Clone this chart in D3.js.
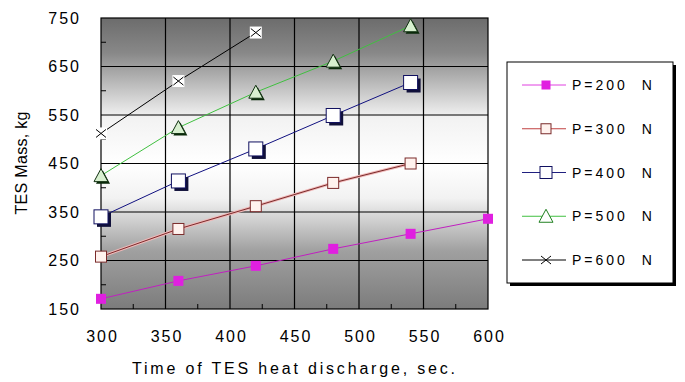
<!DOCTYPE html>
<html><head><meta charset="utf-8">
<script src="https://cdn.jsdelivr.net/npm/d3@7/dist/d3.min.js"></script>
<style>body{margin:0;background:#fff;} svg{display:block;font-family:"Liberation Sans",Arial,sans-serif;}</style>
</head><body>
<svg id="c" width="685" height="382"></svg>
<script>
const xTicks = [300, 350, 400, 450, 500, 550, 600];
const yTicks = [150, 250, 350, 450, 550, 650, 750];
const seriesNames = ["P=200  N", "P=300  N", "P=400  N", "P=500  N", "P=600  N"];
const xP200 = [300, 360, 420, 480, 540, 600];
const yP200 = [171, 208, 239, 274, 305, 336];
const xP300 = [300, 360, 420, 480, 540];
const yP300 = [258, 315, 362, 410, 450];
const xP400 = [300, 360, 420, 480, 540];
const yP400 = [340, 414, 480, 549, 617];
const xP500 = [300, 360, 420, 480, 540];
const yP500 = [425, 524, 597, 661, 734];
const xP600 = [300, 360, 420];
const yP600 = [512, 620, 720];

const svg = d3.select("#c");
const L = 101, R = 488, T = 18, B = 309;
const x = d3.scaleLinear().domain([300, 600]).range([L, R]);
const y = d3.scaleLinear().domain([150, 750]).range([B, T]);

const defs = svg.append("defs");
const g = defs.append("linearGradient").attr("id", "bg").attr("x1", 0).attr("y1", 0).attr("x2", 0).attr("y2", 1);
[[0, "#6c6c6c"], [0.12, "#888888"], [0.34, "#f2f2f2"], [0.5, "#ffffff"], [0.62, "#f2f2f2"], [0.8, "#a0a0a0"], [1, "#7c7c7c"]]
  .forEach(([o, c]) => g.append("stop").attr("offset", o).attr("stop-color", c));

svg.append("rect").attr("x", L).attr("y", T).attr("width", R - L).attr("height", B - T).attr("fill", "url(#bg)");

// grid
svg.append("g").selectAll("line").data(yTicks.slice(1, -1)).join("line")
  .attr("x1", L).attr("x2", R).attr("y1", d => y(d)).attr("y2", d => y(d))
  .attr("stroke", "#000").attr("stroke-width", 1.2);
svg.append("g").selectAll("line").data(xTicks.slice(1, -1)).join("line")
  .attr("y1", T).attr("y2", B).attr("x1", d => x(d)).attr("x2", d => x(d))
  .attr("stroke", "#000").attr("stroke-width", 1.2);
svg.append("rect").attr("x", L).attr("y", T).attr("width", R - L).attr("height", B - T)
  .attr("fill", "none").attr("stroke", "#000").attr("stroke-width", 1.2);

// axes
const yAxis = d3.axisLeft(y).tickValues(yTicks).tickSize(0).tickPadding(20).tickFormat(d3.format("d"));
const ya = svg.append("g").attr("transform", `translate(${L},0)`).call(yAxis);
ya.select(".domain").remove();
ya.selectAll("text").attr("font-size", 16).attr("letter-spacing", 2).attr("fill", "#000").attr("font-family", "Liberation Sans, Arial");
const xAxis = d3.axisBottom(x).tickValues(xTicks).tickSize(0).tickPadding(22).tickFormat(d3.format("d"));
const xa = svg.append("g").attr("transform", `translate(0,${B})`).call(xAxis);
xa.select(".domain").remove();
xa.selectAll("text").attr("font-size", 16).attr("letter-spacing", 2).attr("dx", 1).attr("fill", "#000").attr("font-family", "Liberation Sans, Arial");

// minor inward ticks
const minorX = d3.range(325, 600, 50);
const minorY = d3.range(200, 750, 100);
svg.append("g").selectAll("line").data(minorX).join("line")
  .attr("x1", d => x(d)).attr("x2", d => x(d)).attr("y1", B).attr("y2", B - 5).attr("stroke", "#000");
svg.append("g").selectAll("line").data(minorY).join("line")
  .attr("y1", d => y(d)).attr("y2", d => y(d)).attr("x1", L).attr("x2", L + 5).attr("stroke", "#000");

// titles
svg.append("text").attr("x", 132).attr("y", 374).attr("font-size", 16).attr("textLength", 323).attr("lengthAdjust", "spacing")
  .text("Time of TES heat discharge, sec.");
svg.append("text").attr("transform", "translate(27,163) rotate(-90)").attr("text-anchor", "middle")
  .attr("font-size", 16).attr("textLength", 103).attr("lengthAdjust", "spacing").text("TES Mass, kg");

const series = [
  { xs: xP200, ys: yP200, line: "#c020c0", halo: null, type: "fsq" },
  { xs: xP300, ys: yP300, line: "#7a2a2a", halo: "#f0b8b8", type: "sq300" },
  { xs: xP400, ys: yP400, line: "#101080", halo: null, type: "sq400" },
  { xs: xP500, ys: yP500, line: "#40c040", halo: null, type: "tri" },
  { xs: xP600, ys: yP600, line: "#000000", halo: null, type: "x" }
];

function marker(sel, type, legend) {
  if (type === "fsq") {
    const s = legend ? 9 : 10;
    sel.append("rect").attr("x", -s / 2).attr("y", -s / 2).attr("width", s).attr("height", s).attr("fill", "#e020e0");
  } else if (type === "sq300") {
    const s = legend ? 10 : 11;
    sel.append("rect").attr("x", -s / 2).attr("y", -s / 2).attr("width", s).attr("height", s)
      .attr("fill", "#fff2ee").attr("stroke", "#7a2a2a").attr("stroke-width", 1);
  } else if (type === "sq400") {
    const s = legend ? 12 : 14;
    if (!legend) sel.append("rect").attr("x", -s / 2 + 3).attr("y", -s / 2 + 3).attr("width", s).attr("height", s).attr("fill", "#10103a");
    sel.append("rect").attr("x", -s / 2).attr("y", -s / 2).attr("width", s).attr("height", s)
      .attr("fill", "#fff").attr("stroke", "#101060").attr("stroke-width", 1);
  } else if (type === "tri") {
    const p = "M0,-7L7,6L-7,6Z";
    if (!legend) sel.append("path").attr("d", p).attr("transform", "translate(2,2)").attr("fill", "#0a2a0a");
    sel.append("path").attr("d", p).attr("fill", legend ? "#fff" : "#d8f0d0").attr("stroke", legend ? "#208020" : "#103010").attr("stroke-width", 1);
  } else if (type === "x") {
    if (!legend) sel.append("rect").attr("x", -6).attr("y", -6).attr("width", 12).attr("height", 12).attr("fill", "#fff");
    sel.append("path").attr("d", "M-5,-4L5,4M-5,4L5,-4").attr("stroke", "#000").attr("stroke-width", 1).attr("fill", "none");
  }
}

const lineGen = d3.line().x(d => x(d[0])).y(d => y(d[1]));
series.forEach(s => {
  const pts = s.xs.map((v, i) => [v, s.ys[i]]);
  if (s.halo) svg.append("path").attr("d", lineGen(pts)).attr("fill", "none").attr("stroke", s.halo).attr("stroke-width", 3);
  svg.append("path").attr("d", lineGen(pts)).attr("fill", "none").attr("stroke", s.line).attr("stroke-width", 1);
  const gm = svg.append("g").selectAll("g").data(pts).join("g").attr("transform", d => `translate(${x(d[0])},${y(d[1])})`);
  gm.each(function () { marker(d3.select(this), s.type, false); });
});

// legend
const LX = 507, LY = 62, LW = 166, LH = 221;
svg.append("rect").attr("x", LX + 3).attr("y", LY + 3).attr("width", LW).attr("height", LH).attr("fill", "#000");
svg.append("rect").attr("x", LX).attr("y", LY).attr("width", LW).attr("height", LH).attr("fill", "#fff").attr("stroke", "#000");
const rowY = d3.scalePoint().domain(seriesNames).range([85, 260]);
const legendLine = ["#e040e0", "#c04040", "#202080", "#40c040", "#000"];
seriesNames.forEach((n, i) => {
  const yy = rowY(n);
  svg.append("line").attr("x1", 522).attr("x2", 566).attr("y1", yy).attr("y2", yy).attr("stroke", legendLine[i]);
  const gm = svg.append("g").attr("transform", `translate(546,${yy})`);
  marker(gm, series[i].type, true);
  svg.append("text").attr("x", 572).attr("y", yy + 5).attr("font-size", 14).attr("letter-spacing", 3)
    .attr("xml:space", "preserve").style("white-space", "pre").text(n);
});
</script>
</body></html>
